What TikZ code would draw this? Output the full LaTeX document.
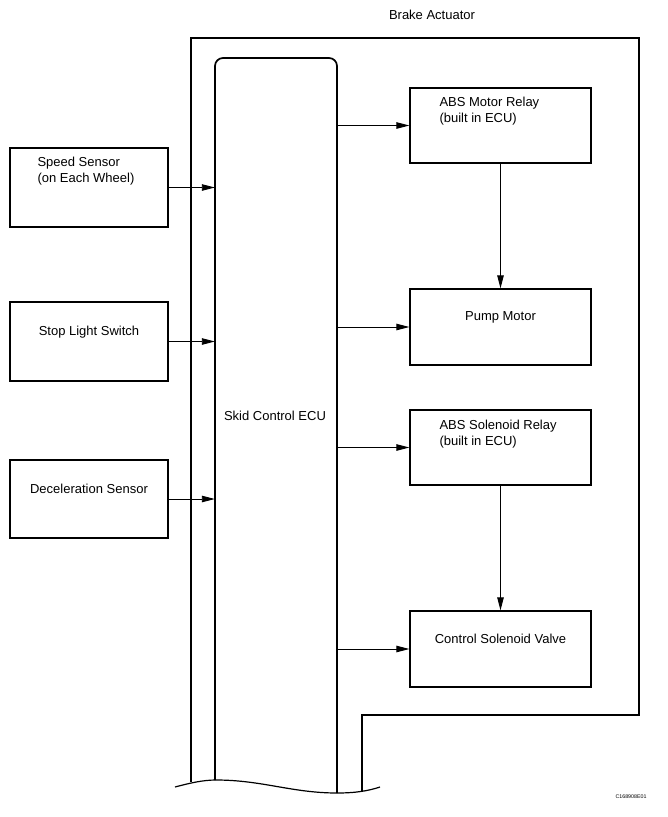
\documentclass[tikz,border=0pt]{standalone}
\usepackage{fontspec}
\setmainfont{Liberation Sans}
\usetikzlibrary{arrows.meta,positioning}
\tikzset{
  >={Triangle[length=13pt,width=6.5pt]},
  blk/.style={draw,line width=1.3pt,minimum width=158pt,inner sep=0pt},
  rblk/.style={blk,minimum width=181pt},
  txt/.style={font=\fontsize{13}{16}\selectfont,inner sep=0pt,align=left},
  arr/.style={->,line width=0.9pt},
  outline/.style={line width=1.2pt},
  eculine/.style={line width=1.7pt,rounded corners=8pt},
}

\begin{document}
\begin{tikzpicture}[x=1pt,y=-1pt]
\useasboundingbox (0,0) rectangle (668,817);
% titles
\node[txt] (act) at (432,15) {Brake Actuator};
\node[inner sep=0pt,font=\fontsize{5.3}{6}\selectfont] (code) at (631,797) {C168908E01};
% actuator outline
\draw[outline] (191,781.5) -- (191,38) -- (639,38) -- (639,715) -- (362,715) -- (362,791);
% skid control ecu
\node[minimum width=122pt,minimum height=732pt,inner sep=0pt] (ecu) at (276,424) {};
\draw[eculine] (215,780) -- (215,58) -- (337,58) -- (337,793);
\node[txt] (ecutxt) at (275,416) {Skid Control ECU};
\draw[line width=1.2pt] (175,787) .. controls (190,783) and (203,780) .. (216,780)
  .. controls (262,780) and (292,793) .. (337,793)
  .. controls (355,793) and (368,791) .. (380,787);
% inputs
\node[blk,minimum height=79pt] (speed) at (89,187.5) {};
\node[blk,minimum height=79pt] (stop) at (89,341.5) {};
\node[blk,minimum height=78pt] (decel) at (89,499) {};
\node[txt,below right=9.5pt and 28pt of speed.north west] (speedtxt) {Speed Sensor\\(on Each Wheel)};
\node[txt,below=25pt of stop.north] (stoptxt) {Stop Light Switch};
\node[txt,below=25pt of decel.north] (deceltxt) {Deceleration Sensor};
\draw[arr] (speed.east) -- (speed.east -| ecu.west);
\draw[arr] (stop.east) -- (stop.east -| ecu.west);
\draw[arr] (decel.east) -- (decel.east -| ecu.west);
% outputs
\node[rblk,minimum height=75pt] (amr) at (500.5,125.5) {};
\node[rblk,minimum height=76pt] (pump) at (500.5,327) {};
\node[rblk,minimum height=75pt] (asr) at (500.5,447.5) {};
\node[rblk,minimum height=76pt] (csv) at (500.5,649) {};
\node[txt,below right=9.5pt and 30pt of amr.north west] (amrtxt) {ABS Motor Relay\\(built in ECU)};
\node[txt,below=23pt of pump.north] (pumptxt) {Pump Motor};
\node[txt,below right=10.5pt and 30pt of asr.north west] (asrtxt) {ABS Solenoid Relay\\(built in ECU)};
\node[txt,below=24pt of csv.north] (csvtxt) {Control Solenoid Valve};
\draw[arr] (ecu.east |- amr.west) -- (amr.west);
\draw[arr] (ecu.east |- pump.west) -- (pump.west);
\draw[arr] (ecu.east |- asr.west) -- (asr.west);
\draw[arr] (ecu.east |- csv.west) -- (csv.west);
\draw[arr] (amr) -- (pump);
\draw[arr] (asr) -- (csv);
\end{tikzpicture}
\end{document}
